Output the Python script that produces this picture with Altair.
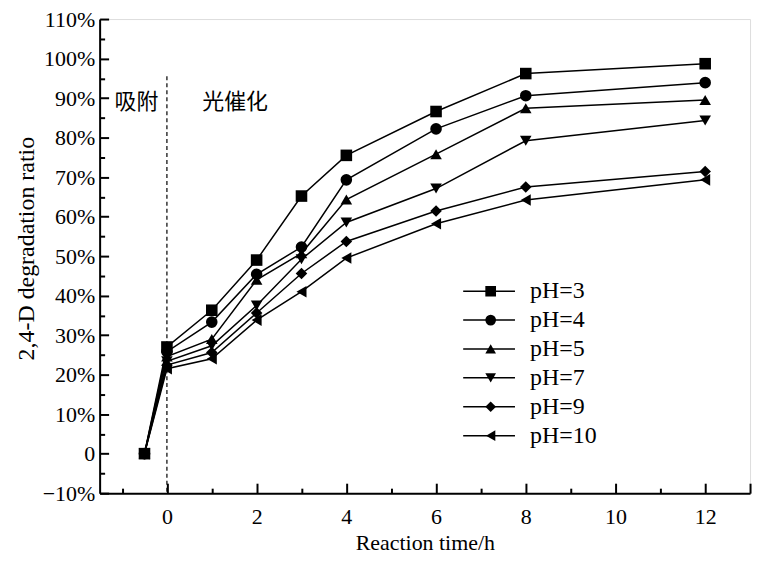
import altair as alt
import pandas as pd

# ---- data ----
times = [-0.5, 0, 1, 2, 3, 4, 6, 8, 12]
series_names = ["pH=3", "pH=4", "pH=5", "pH=7", "pH=9", "pH=10"]
line_keys = ["L3", "L4", "L5", "L7", "L9", "L10"]
ph3 = [0, 27.0, 36.3, 49.0, 65.2, 75.5, 86.6, 96.2, 98.7]
ph4 = [0, 25.8, 33.3, 45.4, 52.3, 69.3, 82.2, 90.6, 93.9]
ph5 = [0, 24.6, 29.0, 44.0, 50.7, 64.3, 75.8, 87.4, 89.5]
ph7 = [0, 23.4, 27.3, 37.5, 49.2, 58.5, 67.1, 79.2, 84.3]
ph9 = [0, 22.4, 25.6, 35.6, 45.6, 53.7, 61.4, 67.5, 71.4]
ph10 = [0, 21.5, 24.0, 33.8, 41.0, 49.5, 58.2, 64.2, 69.3]
all_series = [ph3, ph4, ph5, ph7, ph9, ph10]

shapes = ["square", "circle", "triangle-up", "triangle-down", "diamond", "triangle-left"]

y_label_values = [v / 10 for v in range(-1, 12)]
y_tick_values = [v / 100 for v in range(-10, 115, 5)]
x_label_values = [0, 2, 4, 6, 8, 10, 12]
x_tick_values = list(range(-1, 14))

phase_labels = ["吸附", "光催化"]
phase_x = [-0.68, 1.52]
phase_y = [0.89, 0.89]

rows = []
for name, key, vals in zip(series_names, line_keys, all_series):
    for t, v in zip(times, vals):
        rows.append({"t": t, "ratio": v / 100, "pH": name, "line": key})
df = pd.DataFrame(rows)

W, H = 653, 476
FONT = "Liberation Serif"
LEG_X, LEG_Y, ROW_H = 364, 259, 28.5

xscale = alt.Scale(domain=[-1.5, 13], nice=False, zero=False)
yscale = alt.Scale(domain=[-0.1, 1.1], nice=False, zero=False)

x_main = alt.X("t:Q", scale=xscale, axis=alt.Axis(
    title="Reaction time/h", values=x_label_values, ticks=False, grid=False,
    domainColor="black", domainWidth=2, labelFont=FONT, labelFontSize=22,
    labelColor="black", labelPadding=13, titleFont=FONT, titleFontSize=22,
    titleFontWeight="normal", titleColor="black", titlePadding=6))
y_main = alt.Y("ratio:Q", scale=yscale, axis=alt.Axis(
    title="2,4-D degradation ratio", values=y_label_values, ticks=False, grid=False,
    domainColor="black", domainWidth=2, labelFont=FONT, labelFontSize=22,
    labelColor="black", labelPadding=5,
    labelExpr="datum.value == 0 ? '0' : format(datum.value, '.0%')",
    titleFont=FONT, titleFontSize=24, titleFontWeight="normal",
    titleColor="black", titlePadding=4, titleY=230))

# lines (their legend draws the horizontal stroke of each legend entry)
lines = alt.Chart(df).mark_line(strokeWidth=1.5).encode(
    x=x_main, y=y_main,
    color=alt.Color("line:N", scale=alt.Scale(domain=line_keys, range=["black"] * 6),
                    legend=alt.Legend(title=None, orient="none", legendX=LEG_X, legendY=LEG_Y,
                                      padding=0, symbolType="stroke", symbolSize=2704,
                                      symbolStrokeWidth=1.5, symbolStrokeColor="black",
                                      clipHeight=ROW_H, rowPadding=0,
                                      labelExpr="''", labelFontSize=24)),
)

x_ticks = alt.X("t:Q", scale=xscale, axis=alt.Axis(
    orient="top", offset=-H, title=None, labels=False, domain=False, grid=False,
    values=x_tick_values, tickColor="black", tickWidth=2,
    tickSize={"condition": {"test": "datum.value % 2 == 0 || datum.value == 13", "value": 10}, "value": 5}))
y_ticks = alt.Y("ratio:Q", scale=yscale, axis=alt.Axis(
    orient="right", offset=-W, title=None, labels=False, domain=False, grid=False,
    values=y_tick_values, tickColor="black", tickWidth=2,
    tickSize={"condition": {"test": "abs(round(datum.value * 100)) % 10 == 0", "value": 9}, "value": 5}))

points = alt.Chart(df).mark_point(filled=True, color="black", opacity=1, size=135).encode(
    x=x_ticks, y=y_ticks,
    shape=alt.Shape("pH:N", scale=alt.Scale(domain=series_names, range=shapes),
                    legend=alt.Legend(title=None, orient="none", legendX=LEG_X + 16.6, legendY=LEG_Y,
                                      padding=0, symbolSize=115, clipHeight=ROW_H, rowPadding=0,
                                      labelOffset=27.6, symbolOpacity=1,
                                      symbolFillColor="black", symbolStrokeColor="black",
                                      labelFont=FONT, labelFontSize=24, labelColor="black")),
)

rule = alt.Chart(pd.DataFrame({"x": [0], "top": [0.955], "bottom": [-0.1]})).mark_rule(
    color="black", strokeDash=[4, 3], strokeWidth=1.2).encode(
    x=alt.X("x:Q", scale=xscale, axis=None),
    y=alt.Y("top:Q", scale=yscale, axis=None),
    y2="bottom:Q",
)

texts = alt.Chart(pd.DataFrame({"x": phase_x, "y": phase_y, "label": phase_labels})).mark_text(
    font="Noto Sans CJK SC", fontSize=22, color="black").encode(
    x=alt.X("x:Q", scale=xscale, axis=None),
    y=alt.Y("y:Q", scale=yscale, axis=None),
    text="label:N",
)

chart = alt.layer(lines, points, rule, texts).resolve_axis(
    x="independent", y="independent"
).properties(
    width=W, height=H,
    autosize=alt.AutoSizeParams(type="none"),
    padding={"left": 92, "top": 10, "right": 10, "bottom": 64},
).configure_view(stroke=None).configure(background="white")

chart.save("out.html", embed_options={"renderer": "svg", "actions": False})
